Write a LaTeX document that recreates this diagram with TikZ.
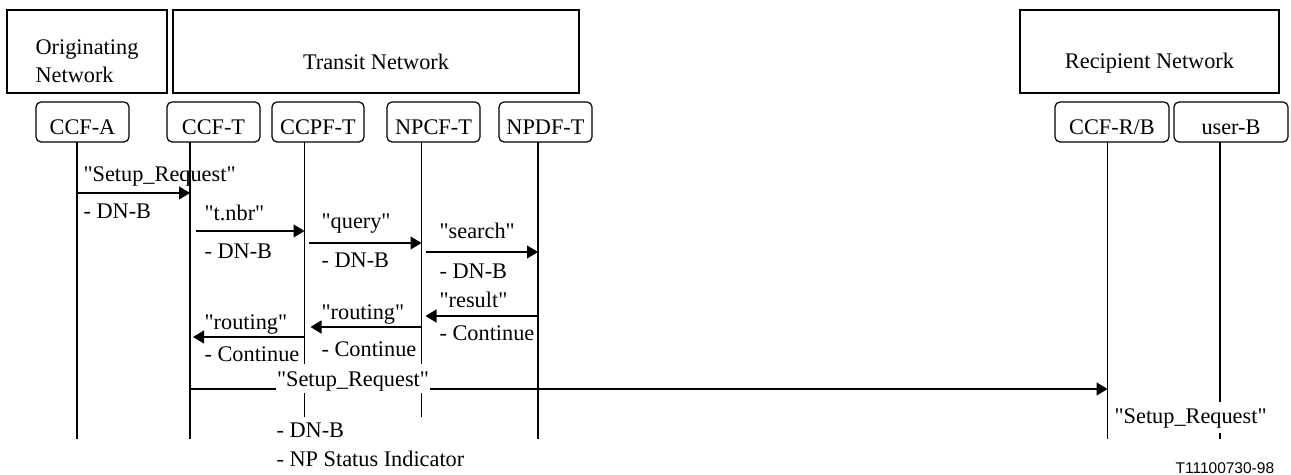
\documentclass[tikz,border=0pt]{standalone}
\usepackage{fontspec}
\setmainfont{Liberation Serif}[Ligatures=TeXOff]
\newfontfamily\figsans{Liberation Sans}
\usetikzlibrary{arrows.meta}
\begin{document}
\begin{tikzpicture}[x=1bp,y=-1bp,line width=1.2bp,
  every node/.style={font=\fontsize{22.3bp}{28bp}\selectfont,inner sep=0pt},
  netbox/.style={draw,rectangle,minimum height=83bp},
  partbox/.style={draw,rounded corners=5bp,minimum height=40bp,text height=33bp,text depth=7bp},
  lbl/.style={anchor=base west},
  msg/.style={-{Triangle[length=11bp,width=13bp]}},
  hidelbl/.style={fill=white,anchor=base,inner xsep=1bp}
]
\useasboundingbox (0,0) rectangle (1291,475);

% network boxes
\node[netbox,minimum width=160bp] (orig) at (87,51.5) {};
\node[netbox,minimum width=406bp] (trans) at (376,51.5) {};
\node[netbox,minimum width=259bp] (recip) at (1149.5,51.5) {};
\node[align=left] (origtxt) at ([yshift=-10bp]orig.center) {Originating\\Network};
\node (transtxt) at ([yshift=-10.5bp]trans.center) {Transit Network};
\node (reciptxt) at ([yshift=-11.5bp]recip.center) {Recipient Network};

% participant boxes
\node[partbox,minimum width=93bp] (pA) at (82.5,122) {CCF-A};
\node[partbox,minimum width=93bp] (pT) at (213.5,122) {CCF-T};
\node[partbox,minimum width=92bp] (pP) at (318,122) {CCPF-T};
\node[partbox,minimum width=93bp] (pN) at (433.5,122) {NPCF-T};
\node[partbox,minimum width=93bp] (pD) at (545.5,122) {NPDF-T};
\node[partbox,minimum width=114bp] (pR) at (1112,122) {CCF-R/B};
\node[partbox,minimum width=114bp] (pU) at (1231,122) {user-B};

% lifeline ends
\coordinate (lA) at (77,142);    \coordinate (eA) at (77,439);
\coordinate (lT) at (190,142);   \coordinate (eT) at (190,439);
\coordinate (lP) at (304.5,142); \coordinate (eP) at (304.5,417);
\coordinate (lN) at (421.5,142); \coordinate (eN) at (421.5,417);
\coordinate (lD) at (538,142);   \coordinate (eD) at (538,439);
\coordinate (lR) at (1107.5,142);\coordinate (eR) at (1107.5,439);
\coordinate (lU) at (1220,142);  \coordinate (eU) at (1220,439);
\foreach \s/\e in {lA/eA,lT/eT,lP/eP,lN/eN,lD/eD,lR/eR,lU/eU} \draw (\s) -- (\e);

% message levels
\coordinate (m1) at (0,193);
\coordinate (m2) at (0,231);
\coordinate (m3) at (0,243);
\coordinate (m4) at (0,252);
\coordinate (m5) at (0,316);
\coordinate (m6) at (0,327);
\coordinate (m7) at (0,337);
\coordinate (m8) at (0,389);

\draw[msg] (lA |- m1) -- (lT |- m1);
\draw[msg] ([xshift=6bp]lT |- m2) -- (lP |- m2);
\draw[msg] ([xshift=4.5bp]lP |- m3) -- (lN |- m3);
\draw[msg] ([xshift=4.5bp]lN |- m4) -- (lD |- m4);
\draw[msg] (lD |- m5) -- ([xshift=4bp]lN |- m5);
\draw[msg] (lN |- m6) -- ([xshift=6bp]lP |- m6);
\draw[msg] (lP |- m7) -- ([xshift=3bp]lT |- m7);
\draw[msg] (lT |- m8) -- (lR |- m8);

% labels
\node[lbl] (s1) at (83,182) {"Setup\_Request"};
\node[lbl] (s1b) at (83,219) {- DN-B};
\node[lbl] (s2) at (204,221) {"t.nbr"};
\node[lbl] (s2b) at (204,259) {- DN-B};
\node[lbl] (s3) at (321,229) {"query"};
\node[lbl] (s3b) at (321,268) {- DN-B};
\node[lbl] (s4) at (439,239) {"search"};
\node[lbl] (s4b) at (439,279) {- DN-B};
\node[lbl] (s5) at (439,308) {"result"};
\node[lbl] (s5b) at (439,341) {- Continue};
\node[lbl] (s6) at (321,320) {"routing"};
\node[lbl] (s6b) at (321,357) {- Continue};
\node[lbl] (s7) at (204,330) {"routing"};
\node[lbl] (s7b) at (204,362) {- Continue};
\node[hidelbl,text height=23bp,text depth=6bp] (s8) at (353,387) {"Setup\_Request"};
\node[lbl] (s8b) at (276,438) {- DN-B};
\node[lbl] (s8c) at (276,467) {- NP Status Indicator};
\node[hidelbl,anchor=base west,text height=22bp,text depth=9bp] (s9) at (1113,424) {"Setup\_Request"};

\node[anchor=base west,font=\figsans\fontsize{15.5bp}{18bp}\selectfont] (ref) at (1175,473.5) {T11100730-98};
\end{tikzpicture}
\end{document}
